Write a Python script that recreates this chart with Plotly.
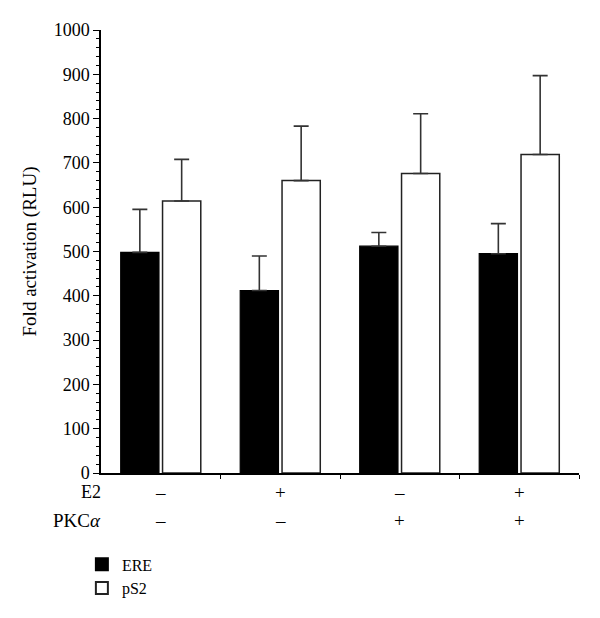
import plotly.graph_objects as go

groups = [0, 1, 2, 3]
e2_signs = ["–", "+", "–", "+"]
pkc_signs = ["–", "–", "+", "+"]

ere_values = [498, 412, 512, 495]
ere_err = [97, 78, 31, 68]
ps2_values = [614, 660, 676, 719]
ps2_err = [94, 123, 135, 178]

FONT = "Liberation Serif"

fig = go.Figure()
fig.add_trace(go.Bar(
    x=groups, y=ere_values, name="ERE",
    width=0.32, offset=-0.335,
    marker=dict(color="black", line=dict(color="black", width=1.2)),
    error_y=dict(type="data", array=ere_err, arrayminus=[0]*4, symmetric=False,
                 color="#333333", thickness=1.6, width=7.5),
))
fig.add_trace(go.Bar(
    x=groups, y=ps2_values, name="pS2",
    width=0.32, offset=0.015,
    marker=dict(color="white", line=dict(color="#222222", width=1.5)),
    error_y=dict(type="data", array=ps2_err, arrayminus=[0]*4, symmetric=False,
                 color="#333333", thickness=1.6, width=7.5),
))

fig.update_xaxes(
    range=[-0.5, 3.5], showline=True, linecolor="black", linewidth=1.5,
    tickvals=[0.5, 1.5, 2.5, 3.5], showticklabels=False,
    ticks="outside", ticklen=4, tickcolor="black", tickwidth=1.2,
    showgrid=False, zeroline=False, automargin=False,
)
fig.update_yaxes(
    range=[0, 1000], dtick=100, showline=True, linecolor="black", linewidth=1.5,
    ticks="outside", ticklen=6, tickcolor="black", tickwidth=1.2,
    minor=dict(dtick=20, ticks="outside", ticklen=3, tickcolor="black", tickwidth=1),
    showgrid=False, zeroline=False, automargin=False,
    title=dict(text="Fold activation (RLU)", font=dict(size=19, family=FONT, color="black"), standoff=12),
    tickfont=dict(size=18, family=FONT, color="black"),
)

ann = []
ann.append(dict(text="E2", x=0, xref="paper", xanchor="right", xshift=1, y=-0.043, yref="paper",
                yanchor="middle", showarrow=False, borderpad=0,
                font=dict(size=18, family=FONT, color="black")))
ann.append(dict(text="PKC<i>α</i>", x=0, xref="paper", xanchor="right", xshift=2, y=-0.107, yref="paper",
                yanchor="middle", showarrow=False, font=dict(size=19, family=FONT, color="black")))
for g, s in zip(groups, e2_signs):
    ann.append(dict(text=s, x=g, xref="x", y=-0.043, yref="paper", yanchor="middle",
                    showarrow=False, font=dict(size=19, family=FONT, color="black")))
for g, s in zip(groups, pkc_signs):
    ann.append(dict(text=s, x=g, xref="x", y=-0.107, yref="paper", yanchor="middle",
                    showarrow=False, font=dict(size=19, family=FONT, color="black")))

fig.update_layout(
    width=584, height=610,
    margin=dict(l=93, r=13, t=22, b=145),
    plot_bgcolor="white", paper_bgcolor="white",
    showlegend=True,
    legend=dict(x=-0.04, xanchor="left", y=-0.168, yanchor="top",
                font=dict(size=16, family=FONT, color="black"),
                tracegroupgap=0, itemsizing="constant", bgcolor="rgba(0,0,0,0)"),
    annotations=ann,
    font=dict(family=FONT, color="black"),
)

fig.write_html("out.html")
